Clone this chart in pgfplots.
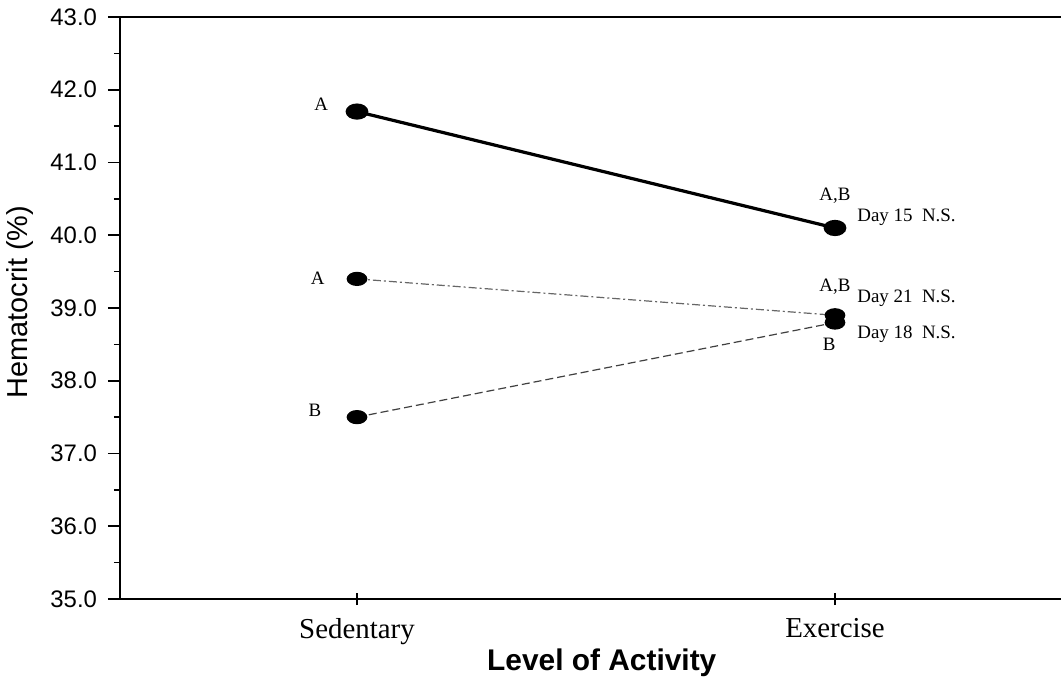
\documentclass[border=0pt]{standalone}
\usepackage{fontspec}
\setmainfont{Liberation Sans}
\newfontfamily\tnr{Liberation Serif}
\usepackage{pgfplots}
\pgfplotsset{compat=1.18}
\usetikzlibrary{calc}
\begin{document}
\begin{tikzpicture}
\begin{axis}[
  scale only axis,
  width=470.5bp, height=291bp,
  xmin=-0.4958, xmax=1.4728,
  ymin=35, ymax=43,
  axis x line*=box, axis y line*=left,
  axis line style={-, line width=1bp},
  xtick={0,1}, xticklabels={Sedentary, Exercise},
  xtick pos=bottom, ytick pos=left,
  xtick align=center, ytick align=outside,
  major tick length=6bp, minor tick length=3bp,
  every tick/.style={black, line width=0.8bp},
  xticklabel style={font=\tnr\fontsize{14.5}{16}\selectfont, yshift=-3bp},
  ytick={35,36,...,43},
  minor y tick num=1,
  yticklabel style={font=\fontsize{12}{14}\selectfont, xshift=-2bp,
    /pgf/number format/fixed, /pgf/number format/fixed zerofill,
    /pgf/number format/precision=1},
  /pgf/number format/assume math mode=true,
  ylabel={Hematocrit (\%)},
  ylabel style={font=\fontsize{14.5}{16}\selectfont, at={(axis description cs:-0.1063,0.51)}, anchor=center},
  xlabel={Level of Activity},
  xlabel style={font=\bfseries\fontsize{15}{17}\selectfont, at={(axis description cs:0.512,-0.11)}, anchor=center},
  clip=false,
]
\coordinate (ll) at (rel axis cs:0,0);
\coordinate (ur) at (rel axis cs:1,1);
% Day 21
\addplot[gray!80!black, line width=0.6bp, dash pattern=on 4bp off 1.5bp on 1bp off 1.5bp,
  mark=*, mark size=3.25bp, mark options={solid, fill=black, draw=black, xscale=1.5}]
  coordinates {(0,39.4) (1,38.9)};
% Day 18
\addplot[darkgray, line width=0.6bp, dash pattern=on 4bp off 2bp,
  mark=*, mark size=3.25bp, mark options={solid, fill=black, draw=black, xscale=1.5}]
  coordinates {(0,37.5) (1,38.8)};
% Day 15
\addplot[black, line width=1.6bp,
  mark=*, mark size=3.25bp, mark options={solid, fill=black, draw=black, xscale=1.5}]
  coordinates {(0,41.7) (1,40.1)};
\begin{scope}[every node/.style={font=\tnr\fontsize{9.5}{11}\selectfont, inner sep=0pt}]
\node at (axis cs:-0.075,41.8) {A};
\node at (axis cs:-0.082,39.41) {A};
\node at (axis cs:-0.088,37.6) {B};
\node at (axis cs:1.0,40.54) {A,B};
\node[anchor=west] at (axis cs:1.046,40.25) {Day 15\ \ N.S.};
\node at (axis cs:1.0,39.29) {A,B};
\node[anchor=west] at (axis cs:1.046,39.14) {Day 21\ \ N.S.};
\node[anchor=west] at (axis cs:1.046,38.64) {Day 18\ \ N.S.};
\node at (axis cs:0.988,38.5) {B};
\end{scope}
\end{axis}
\pgfresetboundingbox
\path[use as bounding box] ($(ll)+(-60bp,-41.5bp)$) rectangle ($(ur)+(0bp,8.5bp)$);
\end{tikzpicture}
\end{document}
